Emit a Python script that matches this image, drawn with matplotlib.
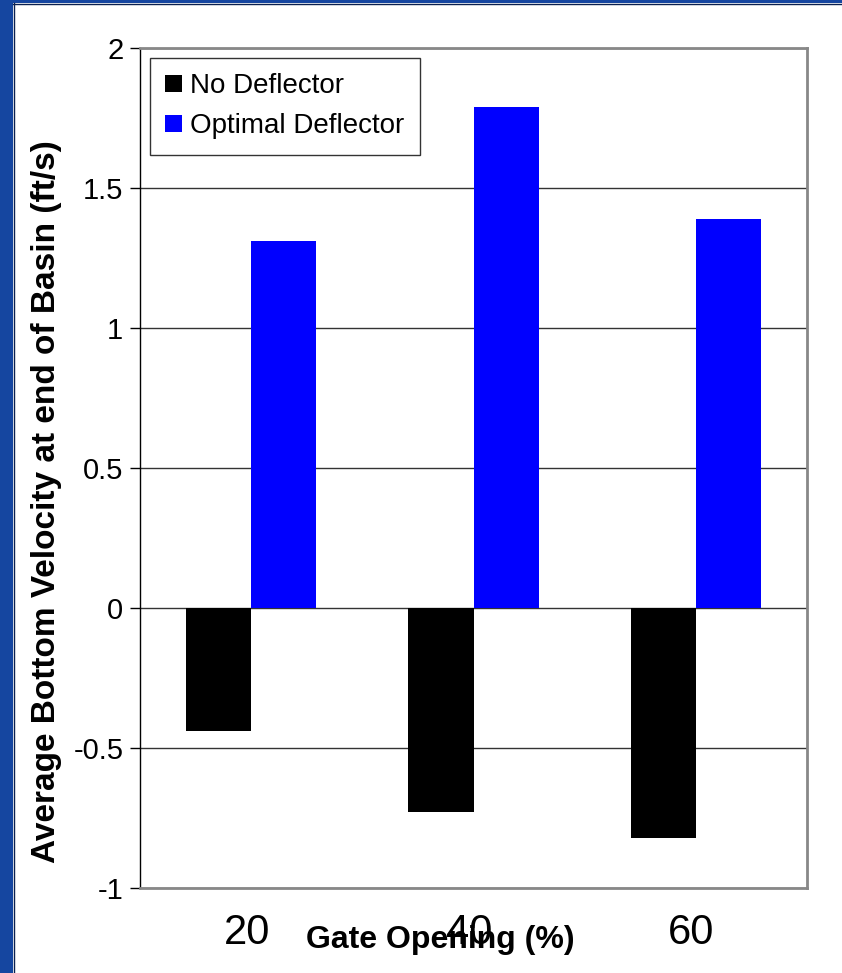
import matplotlib.pyplot as plt
from matplotlib.patches import Rectangle
import numpy as np

plt.rcParams["font.family"] = ["Liberation Sans", "DejaVu Sans"]

gate_opening = ["20", "40", "60"]
no_deflector = [-0.44, -0.73, -0.82]
optimal_deflector = [1.31, 1.79, 1.39]

fig = plt.figure(figsize=(8.42, 9.73), dpi=100)

# slide-style blue frame on the left and top
fig.patches.append(Rectangle((0, 0), 13 / 842, 1, transform=fig.transFigure,
                             facecolor="#1546A0", edgecolor="none", zorder=0))
fig.patches.append(Rectangle((0, 1 - 3 / 973), 1, 3 / 973, transform=fig.transFigure,
                             facecolor="#1546A0", edgecolor="none", zorder=0))
fig.add_artist(plt.Line2D([13.5 / 842, 13.5 / 842], [0, 1 - 3 / 973],
                          transform=fig.transFigure, color="#0a2050", lw=1))
fig.add_artist(plt.Line2D([13 / 842, 1], [1 - 3.5 / 973, 1 - 3.5 / 973],
                          transform=fig.transFigure, color="#0a2050", lw=1))

ax = fig.add_axes([140 / 842, 85 / 973, 667 / 842, 840 / 973])

x = np.arange(len(gate_opening))
w = 0.293
ax.bar(x - w / 2, no_deflector, w, color="black", label="No Deflector", zorder=3)
ax.bar(x + w / 2, optimal_deflector, w, color="#0000FF", label="Optimal Deflector", zorder=3)

ax.set_xlim(-0.5, 2.5)
ax.set_ylim(-1, 2)
ax.set_yticks(np.arange(-1, 2.01, 0.5))
ax.set_yticklabels(["-1", "-0.5", "0", "0.5", "1", "1.5", "2"])
ax.yaxis.grid(True, color="#333333", lw=1)
ax.set_axisbelow(True)

ax.set_xticks(x - 0.02)
ax.set_xticklabels(gate_opening, fontsize=30)
ax.tick_params(axis="x", length=0, pad=18)
ax.tick_params(axis="y", length=7, width=1, labelsize=21, pad=5, direction="out")

for side in ["top", "right", "bottom"]:
    ax.spines[side].set_color("#888888")
    ax.spines[side].set_linewidth(2)
ax.spines["left"].set_color("black")
ax.spines["left"].set_linewidth(1)

ax.set_xlabel("Gate Opening (%)", fontsize=23, fontweight="bold", va="center")
ax.xaxis.set_label_coords(0.45, -0.062)
ax.set_ylabel("Average Bottom Velocity at end of Basin (ft/s)", fontsize=24,
              fontweight="bold", va="center")
ax.yaxis.set_label_coords(-0.14, 0.46)

leg = ax.legend(loc="upper left", bbox_to_anchor=(0.015, 0.988), borderaxespad=0,
                fontsize=20, frameon=True, fancybox=False, handlelength=0.6,
                handleheight=0.6, handletextpad=0.3, labelspacing=0.5,
                borderpad=0.55)
leg.get_frame().set_edgecolor("black")
leg.get_frame().set_linewidth(1)

fig.savefig("out.png", dpi=100, facecolor="white")
